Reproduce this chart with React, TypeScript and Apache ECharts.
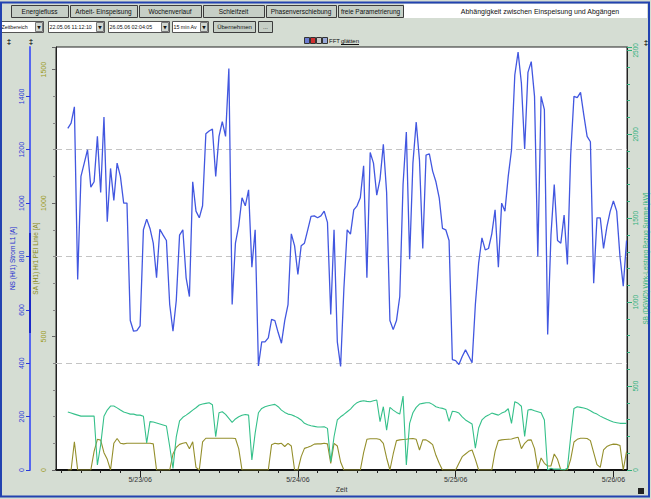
import React, { useEffect, useRef } from 'react';
import * as echarts from 'echarts';

// ---- texts ----
const tabLabels = ['Energiefluss', 'Arbeit- Einspeisung', 'Wochenverlauf', 'Schleifzeit', 'Phasenverschiebung', 'freie Parametrierung'];
const pageTitle = 'Abhängigkeit zwischen Einspeisung und Abgängen';
const rangeChoice = 'Zeitbereich';
const fromTime = '22.05.06 11:12:10';
const toTime = '26.05.06 02:04:05';
const averaging = '15 min Av';
const applyLabel = 'Übernehmen';
const moreLabel = '...';
const blueName = 'NS (H/1) Strom L1 [A]';
const oliveName = 'SA (H1) H/1 PEI Linie [A]';
const greenName = 'SB (DGWD) Wirk-Leistung Bezug Summe [kW]';
const xName = 'Zeit';

// ---- time base (hours since 22.05.06 00:00) ----
const axisStartHour = 11 + 12 / 60 + 10 / 3600;
const axisEndHour = 98 + 4 / 60 + 5 / 3600;
const sampleStartHour = 13;
const sampleStepHours = 0.5;

const dayHours = [24, 48, 72, 96];
const dayLabels = ['5/23/06', '5/24/06', '5/25/06', '5/26/06'];
const tickHours = [12, 15, 18, 21, 24, 27, 30, 33, 36, 39, 42, 45, 48, 51, 54, 57, 60, 63, 66, 69, 72, 75, 78, 81, 84, 87, 90, 93, 96];
const gridLevels = [400, 800, 1200];

// ---- axis ranges ----
const leftMax = 1585;
const rightMax = 2520;

// ---- series values (30-minute samples) ----
const blueValues = [
  1280, 1300, 1361, 714, 1100, 1150, 1200, 1060, 1080, 1250, 1040,
  1323, 930, 1130, 1010, 1150, 1100, 1000, 1000, 560, 520,
  522, 540, 900, 940, 905, 850, 721, 902, 880, 860,
  620, 520, 635, 880, 900, 720, 650, 1080, 970, 945,
  990, 1260, 1270, 1278, 1100, 1250, 1305, 1250, 1504, 620,
  850, 915, 1020, 990, 1050, 760, 900, 390, 480, 480,
  495, 564, 560, 515, 475, 560, 620, 885, 840, 733,
  840, 850, 900, 950, 952, 945, 952, 970, 928, 583,
  900, 480, 388, 680, 900, 884, 975, 990, 1020, 1140,
  720, 1190, 1150, 1030, 1090, 1220, 1040, 560, 526, 560,
  650, 1070, 1266, 790, 1150, 1304, 1160, 830, 1180, 1185,
  1120, 1080, 1020, 905, 900, 860, 414, 410, 395, 425,
  450, 426, 402, 620, 775, 870, 825, 830, 885, 975,
  760, 1000, 970, 1100, 1200, 1480, 1566, 1450, 1203, 1490,
  1530, 1400, 800, 1400, 1350, 508, 880, 1070, 860, 850,
  955, 770, 1180, 1400, 1395, 1415, 1330, 1250, 1230, 700,
  945, 945, 830, 910, 968, 1008, 970, 800, 689, 860,
];

const greenValues = [
  345, 339, 333, 327, 321, 321, 321, 321, 321, 30, 150,
  320, 357, 381, 381, 370, 357, 345, 339, 333, 333,
  327, 327, 320, 161, 288, 286, 280, 274, 268, 262,
  140, 10, 198, 292, 314, 327, 341, 357, 371, 387,
  393, 397, 401, 389, 198, 341, 347, 331, 308, 284,
  304, 317, 326, 331, 327, 60, 220, 341, 367, 377,
  383, 387, 391, 377, 357, 343, 333, 329, 321, 311,
  298, 278, 270, 264, 260, 256, 256, 258, 248, 50,
  198, 298, 317, 331, 347, 363, 385, 401, 409, 413,
  409, 407, 413, 417, 288, 377, 238, 373, 357, 343,
  333, 440, 30, 278, 341, 373, 393, 397, 401, 401,
  391, 377, 371, 367, 361, 290, 350, 347, 339, 317,
  298, 286, 274, 130, 250, 298, 317, 327, 339, 333,
  327, 339, 347, 365, 278, 407, 397, 380, 200, 357,
  361, 353, 347, 341, 298, 0, 10, 5, 5, 5,
  0, 10, 198, 367, 377, 373, 369, 363, 353, 341,
  333, 321, 311, 302, 294, 286, 282, 278, 278, 278,
];

const oliveValues = [
  0, 0, 106, 0, 0, 0, 0, 0, 70, 115, 112,
  65, 40, 0, 100, 118, 100, 98, 100, 100, 100,
  100, 100, 100, 100, 100, 98, 0, 0, 0, 0,
  0, 60, 85, 96, 100, 103, 80, 106, 10, 0,
  105, 119, 119, 119, 119, 119, 119, 119, 119, 119,
  118, 80, 0, 0, 0, 0, 0, 0, 0, 0,
  0, 95, 100, 98, 100, 88, 100, 90, 0, 0,
  50, 81, 85, 90, 97, 98, 98, 100, 98, 25,
  100, 90, 30, 0, 0, 0, 0, 0, 0, 65,
  115, 117, 117, 117, 114, 100, 45, 0, 60, 110,
  113, 114, 115, 117, 118, 115, 75, 113, 113, 105,
  95, 55, 25, 0, 0, 0, 0, 0, 25, 50,
  60, 70, 75, 40, 0, 0, 0, 0, 0, 70,
  110, 113, 114, 115, 116, 120, 123, 80, 100, 112,
  113, 80, 3, 45, 25, 15, 15, 60, 40, 0,
  0, 0, 40, 105, 115, 119, 119, 118, 110, 65,
  20, 10, 75, 88, 94, 97, 96, 92, 0, 70,
];

const FONT = 'Liberation Sans, Arial, sans-serif';
const BG = '#d5ddd3';

const toPairs = (vals: number[]) => vals.map((v, i) => [sampleStartHour + i * sampleStepHours, v]);
const plain = (v: number) => String(Math.round(v));

function rect(x: number, y: number, w: number, h: number, fill: string, stroke?: string, lw = 1) {
  return { type: 'rect', z: 20, shape: { x, y, width: w, height: h }, style: { fill, stroke: stroke || 'none', lineWidth: lw } };
}
function txt(x: number, y: number, text: string, extra: any = {}) {
  return {
    type: 'text', z: 21, x, y,
    style: { text, fontSize: 7, fontFamily: FONT, fill: '#111', align: 'center', verticalAlign: 'middle', ...extra },
  };
}
function line(x1: number, y1: number, x2: number, y2: number, stroke: string, lw = 1) {
  return { type: 'line', z: 21, shape: { x1, y1, x2, y2 }, style: { stroke, lineWidth: lw } };
}

function buildGraphics() {
  const els: any[] = [];
  // tabs
  const tabEdges = [[11, 68], [70, 137], [139, 201], [203, 264], [266, 336], [338, 403]];
  tabLabels.forEach((t, i) => {
    const [a, b] = tabEdges[i];
    els.push(rect(a + 0.5, 5.5, b - a, 12, '#c6cfc6', '#3c3c3c'));
    els.push(txt((a + b) / 2, 11.5, t, { fontSize: 6.5 }));
  });
  els.push(rect(404, 4, 243, 14, '#ffffff'));
  els.push(txt(540, 11.5, pageTitle));

  // second row controls
  const combo = (a: number, b: number, text: string) => {
    els.push(rect(a + 0.5, 21.5, b - a, 11, '#ffffff', '#555'));
    els.push(txt(a + 1.5, 27, text, { align: 'left', fontSize: 5.3 }));
    els.push(rect(b - 7.5, 22.5, 7, 9, '#d0d6d0', '#777'));
    els.push(txt(b - 4, 27.5, '▼', { fontSize: 4.5, fontFamily: 'DejaVu Sans' }));
  };
  combo(0, 43, rangeChoice);
  combo(48, 104, fromTime);
  combo(108, 169, toTime);
  combo(172, 208, averaging);
  els.push(rect(213.5, 21.5, 42, 11, '#c6cfc6', '#3c3c3c'));
  els.push(txt(234.5, 27, applyLabel, { fontSize: 6 }));
  els.push(rect(258.5, 21.5, 14, 11, '#c6cfc6', '#3c3c3c'));
  els.push(txt(265.5, 26.5, moreLabel, { fontSize: 6 }));

  // small toolbar glyphs
  els.push(txt(9, 41, '‡', { fontSize: 8, fontWeight: 'bold' }));
  els.push(txt(31, 41, '‡', { fontSize: 8, fontWeight: 'bold' }));
  els.push(txt(646, 42, '‡', { fontSize: 8, fontWeight: 'bold' }));
  // legend toolbar
  els.push(rect(304.5, 37.5, 5, 6, '#6a7ad0', '#333'));
  els.push(rect(310.5, 37.5, 5, 6, '#d03030', '#333'));
  els.push(rect(316.5, 37.5, 5, 6, '#c8c8c8', '#333'));
  els.push(rect(322.5, 37.5, 5, 6, '#98a8d8', '#333'));
  els.push(txt(329, 41, 'FFT', { align: 'left', fontSize: 6 }));
  els.push(txt(341, 41, 'glätten', { align: 'left', fontSize: 6 }));
  els.push(line(341, 44.5, 359, 44.5, '#111', 1));

  // darker segment on blue axis
  els.push(line(30, 233, 30, 333, '#1a28c8', 2));

  // bottom-right icon
  els.push(rect(638, 488, 6, 6, '#222'));

  // window frame
  els.push({ type: 'rect', z: 30, shape: { x: 1, y: 2.5, width: 648, height: 494 }, style: { fill: 'none', stroke: '#2242b0', lineWidth: 2 } });
  return els;
}

export default function App() {
  const ref = useRef<HTMLDivElement>(null);

  useEffect(() => {
    if (!ref.current) return;
    const chart = echarts.init(ref.current, null, { renderer: 'svg' });
    const tickColorGreen = '#2db07c';
    const option: any = {
      animation: false,
      backgroundColor: BG,
      textStyle: { fontFamily: FONT },
      grid: {
        left: 56, right: 24, top: 47, bottom: 29,
        containLabel: false, outerBoundsMode: 'none',
        show: true, backgroundColor: '#ffffff', borderColor: '#222', borderWidth: 1,
      },
      xAxis: [
        {
          type: 'value', min: axisStartHour, max: axisEndHour, position: 'bottom',
          axisLine: { show: true, lineStyle: { color: '#111', width: 2 } },
          axisTick: { show: true, customValues: tickHours, length: 3, lineStyle: { color: '#222' } },
          axisLabel: {
            show: true, customValues: dayHours, fontSize: 7, color: '#333', margin: 6, fontFamily: FONT,
            formatter: (v: number) => { const i = dayHours.indexOf(Math.round(v)); return i >= 0 ? dayLabels[i] : ''; },
          },
          splitLine: { show: false },
          name: xName, nameLocation: 'middle', nameGap: 16, nameMoveOverlap: false,
          nameTextStyle: { fontSize: 7, color: '#333', fontFamily: FONT },
        },
        {
          type: 'value', min: axisStartHour, max: axisEndHour, position: 'bottom',
          axisLine: { show: false },
          axisTick: { show: true, customValues: dayHours, length: 7, lineStyle: { color: '#222' } },
          axisLabel: { show: false },
          splitLine: { show: false },
        },
      ],
      yAxis: [
        {
          type: 'value', position: 'left', offset: 26, min: 0, max: leftMax, interval: 200,
          axisLine: { show: true, lineStyle: { color: '#5566f0', width: 2 } },
          axisTick: { show: true, length: 4, lineStyle: { color: '#2a3ad8' } },
          axisLabel: { rotate: 90, color: '#2a3ad8', fontSize: 7, margin: 5, showMaxLabel: false, fontFamily: FONT, formatter: plain },
          splitLine: { show: false },
          name: blueName, nameLocation: 'middle', nameRotate: 90, nameGap: 14.5, nameMoveOverlap: false,
          nameTextStyle: { color: '#1a2ad0', fontSize: 6.5, fontFamily: FONT },
        },
        {
          type: 'value', position: 'left', offset: 0, min: 0, max: leftMax, interval: 500,
          axisLine: { show: true, lineStyle: { color: '#222', width: 1 } },
          axisTick: { show: true, length: 4, lineStyle: { color: '#666' } },
          minorTick: { show: true, splitNumber: 5, length: 3, lineStyle: { color: '#888' } },
          axisLabel: { rotate: 90, color: '#9a9a20', fontSize: 7, margin: 9, showMaxLabel: false, fontFamily: FONT, formatter: plain },
          splitLine: { show: false }, minorSplitLine: { show: false },
          name: oliveName, nameLocation: 'middle', nameRotate: 90, nameGap: 17, nameMoveOverlap: false,
          nameTextStyle: { color: '#8a8a18', fontSize: 6.5, fontFamily: FONT },
        },
        {
          type: 'value', position: 'right', offset: 0, min: 0, max: rightMax, interval: 500,
          axisLine: { show: true, lineStyle: { color: '#222', width: 1 } },
          axisTick: { show: true, length: 5, lineStyle: { color: tickColorGreen } },
          minorTick: { show: true, splitNumber: 5, length: 3, lineStyle: { color: tickColorGreen } },
          axisLabel: { rotate: 90, color: tickColorGreen, fontSize: 6.5, margin: 4.5, showMaxLabel: false, fontFamily: FONT, formatter: plain },
          splitLine: { show: false }, minorSplitLine: { show: false },
          name: greenName, nameLocation: 'middle', nameRotate: 90, nameGap: 15, nameMoveOverlap: false,
          nameTextStyle: { color: tickColorGreen, fontSize: 6.3, fontFamily: FONT },
        },
      ],
      series: [
        {
          type: 'line', name: oliveName, xAxisIndex: 0, yAxisIndex: 1, data: toPairs(oliveValues),
          symbol: 'none', showSymbol: false, lineStyle: { color: '#948f2c', width: 1.1 }, z: 3,
        },
        {
          type: 'line', name: greenName, xAxisIndex: 0, yAxisIndex: 2, data: toPairs(greenValues),
          symbol: 'none', showSymbol: false, lineStyle: { color: '#35c08a', width: 1.1 }, z: 4,
        },
        {
          type: 'line', name: blueName, xAxisIndex: 0, yAxisIndex: 0, data: toPairs(blueValues),
          symbol: 'none', showSymbol: false, lineStyle: { color: '#4257e0', width: 1.3 }, z: 5,
          markLine: {
            silent: true, symbol: ['none', 'none'], label: { show: false },
            lineStyle: { type: [6, 4], color: '#c4c4c4', width: 1 },
            data: gridLevels.map((v) => ({ yAxis: v })),
          },
        },
      ],
      graphic: { elements: buildGraphics() },
    };
    chart.setOption(option);
    return () => chart.dispose();
  }, []);

  return <div ref={ref} style={{ position: 'fixed', left: 0, top: 0, width: 651, height: 499 }} />;
}
